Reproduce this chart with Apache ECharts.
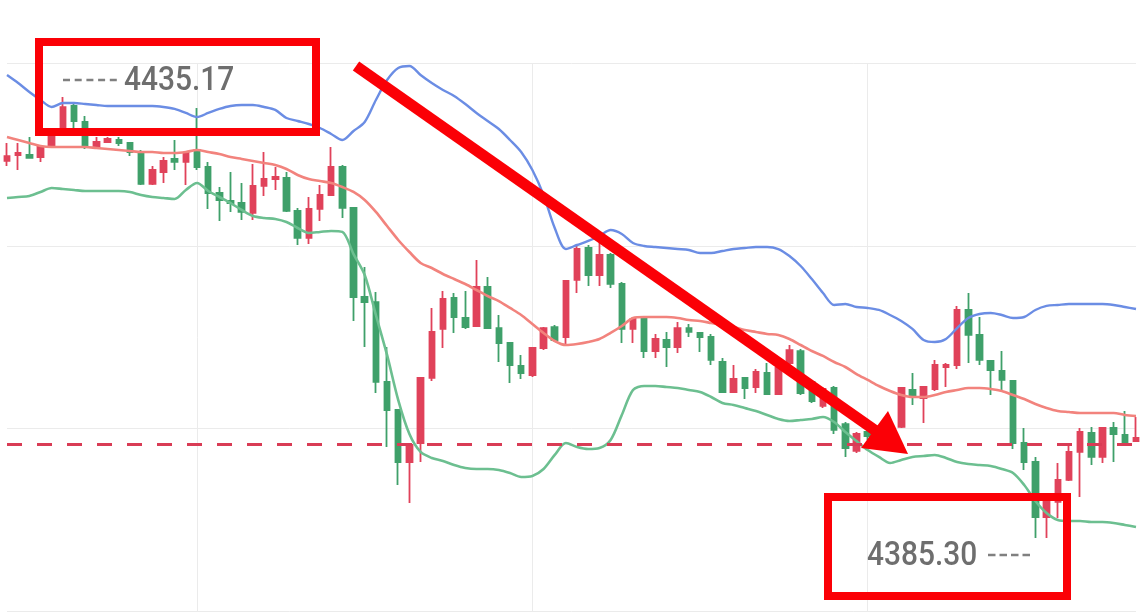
<!DOCTYPE html>
<html>
<head>
<meta charset="utf-8">
<script src="https://cdn.jsdelivr.net/npm/echarts@6/dist/echarts.min.js"></script>
<style>
html,body{margin:0;padding:0;background:#ffffff;}
#chart{width:1140px;height:612px;}
</style>
</head>
<body>
<div id="chart"></div>
<script>
// ---- data ----
const categories = Array.from({length: 102}, (_, i) => String(i + 1));

const opens = [
4429.32,4429.97,4429.97,4429.75,4430.96,4432.71,4435.34,4433.59,4430.85,4431.40,
4431.62,4431.29,4430.19,4426.80,4428.11,4429.54,4429.21,4430.52,4428.66,4425.81,
4424.93,4424.71,4423.62,4426.58,4427.34,4427.45,4423.84,4420.88,4424.06,4425.59,
4428.66,4424.17,4414.41,4413.86,4405.10,4402.03,4396.33,4398.41,4405.54,4410.91,
4414.30,4412.11,4411.23,4415.51,4411.01,4409.37,4406.85,4405.86,4408.82,4411.12,
4410.03,4416.28,4419.78,4416.82,4419.02,4415.84,4410.91,4412.22,4408.49,4409.70,
4408.93,4411.01,4410.47,4410.03,4407.29,4404.00,4405.54,4404.55,4406.08,4403.78,
4407.18,4408.49,4405.10,4402.47,4404.44,4400.49,4397.54,4399.62,4399.07,4400.06,
4400.17,4404.22,4403.34,4404.33,4406.74,4406.96,4412.99,4410.25,4407.40,4406.30,
4405.21,4398.41,4396.33,4390.30,4391.95,4394.36,4397.43,4399.51,4396.88,4400.06,
4399.29,4398.63];

const closes = [
4429.86,4430.19,4429.65,4430.85,4432.06,4435.23,4433.70,4430.85,4431.40,4431.73,
4431.29,4430.30,4426.80,4428.33,4429.32,4429.21,4430.19,4428.66,4425.81,4425.04,
4424.71,4423.73,4426.58,4427.34,4427.56,4423.84,4420.88,4424.06,4425.59,4428.66,
4424.17,4414.41,4413.86,4405.10,4402.03,4396.33,4398.19,4405.54,4410.58,4414.19,
4412.22,4411.12,4415.51,4411.01,4409.37,4406.96,4406.08,4408.82,4411.01,4409.70,
4416.17,4419.67,4416.82,4419.02,4415.84,4410.91,4412.00,4408.49,4409.81,4408.93,
4411.01,4410.58,4410.03,4407.51,4404.00,4405.43,4404.44,4406.19,4403.78,4406.63,
4408.60,4403.89,4403.01,4404.33,4399.84,4397.86,4399.40,4399.18,4399.84,4399.40,
4404.44,4403.67,4404.55,4406.96,4406.96,4412.99,4410.25,4407.51,4406.41,4405.32,
4398.41,4396.33,4390.30,4391.95,4394.36,4397.43,4399.62,4396.88,4400.06,4399.40,
4398.52,4398.96];

const lows = [
4428.77,4428.33,4429.65,4429.21,4430.74,4432.28,4432.93,4430.63,4430.63,4431.29,
4430.96,4429.86,4426.69,4426.69,4426.91,4428.33,4426.69,4428.33,4424.06,4422.74,
4423.73,4422.85,4422.85,4425.48,4426.14,4423.73,4420.11,4420.22,4422.74,4425.48,
4423.07,4411.78,4408.93,4403.89,4397.97,4393.81,4391.84,4396.33,4405.21,4408.82,
4410.47,4410.91,4411.12,4410.91,4407.29,4404.99,4405.43,4405.65,4408.60,4409.48,
4409.15,4414.85,4415.62,4415.62,4415.40,4409.37,4409.37,4407.73,4407.73,4406.74,
4408.28,4410.03,4408.38,4406.96,4403.89,4403.89,4403.23,4403.89,4403.67,4403.67,
4406.96,4403.67,4402.80,4402.25,4399.40,4396.88,4397.32,4398.74,4398.74,4398.96,
4400.06,4402.58,4400.60,4404.11,4404.55,4406.52,4407.18,4406.96,4403.67,4404.22,
4397.75,4395.45,4388.00,4388.00,4390.19,4394.25,4392.49,4396.00,4396.22,4396.33,
4398.41,4398.52];

const highs = [
4431.29,4431.29,4431.95,4431.07,4432.49,4436.33,4435.67,4434.25,4431.95,4431.95,
4431.95,4431.40,4430.52,4428.77,4429.75,4431.62,4430.19,4435.12,4429.21,4426.47,
4428.11,4426.91,4428.99,4430.30,4428.66,4428.11,4424.17,4425.37,4426.69,4430.85,
4428.88,4424.28,4417.70,4414.96,4408.93,4402.14,4398.41,4405.65,4413.21,4415.07,
4414.85,4415.07,4418.47,4416.60,4412.44,4409.48,4408.06,4408.93,4411.12,4411.34,
4416.28,4420.11,4420.11,4420.33,4419.23,4416.06,4412.22,4412.33,4410.36,4410.58,
4411.67,4411.45,4410.58,4410.36,4407.73,4406.96,4405.65,4406.52,4407.18,4406.74,
4409.15,4408.71,4405.32,4404.55,4404.66,4400.71,4399.62,4400.06,4400.38,4400.49,
4404.55,4406.08,4404.66,4407.51,4407.18,4413.43,4414.85,4412.22,4407.51,4408.49,
4405.32,4400.06,4396.88,4392.17,4396.22,4398.08,4400.06,4400.17,4400.17,4400.71,
4401.92,4401.26];

const upperBand = [
4438.74,4437.86,4436.88,4436.00,4435.23,4435.67,4435.67,4435.56,4435.45,4435.34,
4435.34,4435.34,4435.34,4435.34,4435.23,4435.02,4434.58,4434.14,4434.58,4435.02,
4435.34,4435.45,4435.45,4435.23,4434.91,4434.03,4433.70,4433.37,4432.93,4432.28,
4431.62,4432.60,4433.59,4436.00,4438.19,4439.51,4439.73,4438.74,4437.86,4437.10,
4436.44,4435.56,4434.58,4433.70,4432.82,4431.62,4430.30,4428.33,4425.59,4421.97,
4419.67,4420.11,4420.55,4421.10,4421.75,4421.32,4420.33,4420.00,4419.89,4419.78,
4419.67,4419.56,4419.23,4419.23,4419.45,4419.67,4419.78,4419.89,4419.89,4419.67,
4418.91,4417.81,4416.38,4414.85,4413.54,4413.65,4413.32,4413.21,4412.99,4412.44,
4411.78,4410.91,4409.70,4409.48,4409.81,4411.01,4412.11,4412.55,4412.66,4412.44,
4412.11,4412.22,4412.99,4413.43,4413.54,4413.65,4413.65,4413.65,4413.65,4413.54,
4413.32,4413.10];

const middleBand = [
4431.95,4431.62,4431.29,4430.96,4430.85,4430.85,4430.85,4430.85,4430.74,4430.63,
4430.52,4430.41,4430.30,4430.30,4430.19,4430.19,4430.30,4430.52,4430.30,4430.08,
4429.75,4429.54,4429.32,4429.10,4428.88,4428.44,4427.78,4427.34,4427.12,4426.91,
4426.47,4425.92,4425.04,4423.73,4422.19,4420.66,4419.34,4418.14,4417.59,4416.93,
4416.38,4415.84,4415.18,4414.52,4413.97,4413.21,4412.44,4411.45,4410.47,4409.59,
4409.15,4409.26,4409.48,4409.81,4410.47,4411.23,4412.11,4412.22,4412.22,4412.22,
4412.11,4411.89,4411.78,4411.56,4411.34,4411.12,4410.80,4410.58,4410.36,4410.25,
4409.81,4409.15,4408.49,4407.95,4407.29,4406.74,4405.97,4405.32,4404.66,4404.11,
4403.67,4403.45,4403.45,4403.67,4404.00,4404.22,4404.44,4404.44,4404.33,4404.11,
4403.67,4403.23,4402.69,4402.25,4401.92,4401.81,4401.70,4401.70,4401.70,4401.70,
4401.48,4401.37];

const lowerBand = [
4425.26,4425.37,4425.48,4425.92,4426.36,4426.25,4426.14,4426.03,4426.03,4426.03,
4426.03,4425.92,4425.59,4425.37,4425.26,4425.15,4426.14,4426.91,4426.03,4425.37,
4424.71,4423.95,4423.29,4423.07,4422.96,4422.63,4421.97,4421.43,4421.54,4421.65,
4421.54,4419.12,4416.82,4412.44,4408.06,4403.12,4399.40,4397.43,4396.77,4396.44,
4396.00,4395.67,4395.56,4395.56,4395.45,4395.12,4394.69,4394.80,4395.56,4397.10,
4398.41,4397.97,4397.75,4397.86,4398.74,4401.48,4404.22,4404.66,4404.66,4404.55,
4404.44,4404.22,4404.00,4403.45,4402.80,4402.58,4402.25,4401.92,4401.48,4401.04,
4400.82,4400.93,4401.04,4401.26,4400.71,4399.62,4398.63,4397.64,4396.88,4396.22,
4396.55,4396.88,4396.99,4397.10,4396.77,4396.33,4396.11,4396.00,4395.89,4395.56,
4395.12,4393.81,4392.06,4390.74,4389.97,4389.86,4389.86,4389.75,4389.75,4389.64,
4389.43,4389.21];

const yTicks = [4380, 4400, 4420, 4440];
const refLevel = 4398.30;            // dashed horizontal level
const highLabel = '4435.17';
const lowLabel = '4385.30';

// ---- styles ----
const RED = '#e0425a';
const GREEN = '#3fa06a';
const BOX_RED = '#fb0006';
const GRID = '#ebebeb';
const TEXT_GRAY = '#6e6e6e';

const candleData = opens.map((o, i) => [o, closes[i], lows[i], highs[i]]);

const chart = echarts.init(document.getElementById('chart'), null, {renderer: 'canvas'});

const option = {
  animation: false,
  backgroundColor: '#ffffff',
  grid: {left: 7, right: 4, top: 63.5, bottom: 1},
  xAxis: {
    type: 'category',
    data: categories,
    boundaryGap: false,
    axisLine: {show: false},
    axisTick: {show: false},
    axisLabel: {show: false},
    splitLine: {
      show: true,
      interval: (idx) => (idx - 17) % 30 === 0,
      lineStyle: {color: GRID, width: 1}
    }
  },
  yAxis: {
    type: 'value',
    min: yTicks[0],
    max: yTicks[yTicks.length - 1],
    interval: yTicks[1] - yTicks[0],
    axisLine: {show: false},
    axisTick: {show: false},
    axisLabel: {show: false},
    splitLine: {show: true, lineStyle: {color: GRID, width: 1}}
  },
  series: [
    {
      name: 'ref',
      type: 'line',
      data: [],
      silent: true,
      markLine: {
        silent: true,
        symbol: ['none', 'none'],
        label: {show: false},
        lineStyle: {color: '#d93c55', type: [15, 15], width: 3.2},
        data: [{yAxis: refLevel}]
      }
    },
    {
      name: 'K',
      type: 'candlestick',
      data: candleData,
      barWidth: 6,
      clip: false,
      itemStyle: {
        color: RED, color0: GREEN,
        borderColor: RED, borderColor0: GREEN,
        borderWidth: 1.8
      }
    },
    {
      name: 'UB', type: 'line', data: upperBand, showSymbol: false, smooth: 0.3,
      lineStyle: {color: '#6b8de4', width: 2.4}
    },
    {
      name: 'MB', type: 'line', data: middleBand, showSymbol: false, smooth: 0.3,
      lineStyle: {color: '#f2837d', width: 2.6}
    },
    {
      name: 'LB', type: 'line', data: lowerBand, showSymbol: false, smooth: 0.3,
      lineStyle: {color: '#6cbf90', width: 2.6}
    }
  ],
  graphic: [
    // top box
    {
      type: 'rect', z: 100,
      shape: {x: 39, y: 42, width: 277, height: 90},
      style: {fill: 'none', stroke: BOX_RED, lineWidth: 8}
    },
    {
      type: 'line', z: 101,
      shape: {x1: 63, y1: 80, x2: 117, y2: 80},
      style: {stroke: '#808080', lineWidth: 2.5, lineDash: [7, 4.7]}
    },
    {
      type: 'text', z: 101, x: 124, y: 81, scaleX: 0.88,
      style: {text: highLabel, fill: TEXT_GRAY, fontSize: 34, fontFamily: 'Roboto', fontWeight: 500,
              align: 'left', verticalAlign: 'middle'}
    },
    // bottom box
    {
      type: 'rect', z: 100,
      shape: {x: 828, y: 497, width: 239, height: 99},
      style: {fill: 'none', stroke: BOX_RED, lineWidth: 8}
    },
    {
      type: 'text', z: 101, x: 867, y: 556, scaleX: 0.88,
      style: {text: lowLabel, fill: TEXT_GRAY, fontSize: 34, fontFamily: 'Roboto', fontWeight: 500,
              align: 'left', verticalAlign: 'middle'}
    },
    {
      type: 'line', z: 101,
      shape: {x1: 988, y1: 555, x2: 1030, y2: 555},
      style: {stroke: '#808080', lineWidth: 2.5, lineDash: [7.5, 4]}
    },
    // arrow
    {
      type: 'line', z: 100,
      shape: {x1: 356, y1: 66, x2: 876, y2: 431},
      style: {stroke: BOX_RED, lineWidth: 11, lineCap: 'butt'}
    },
    {
      type: 'polygon', z: 100,
      shape: {points: [[861, 448], [888, 411], [908, 454]]},
      style: {fill: BOX_RED}
    }
  ]
};

chart.setOption(option);
</script>
</body>
</html>
